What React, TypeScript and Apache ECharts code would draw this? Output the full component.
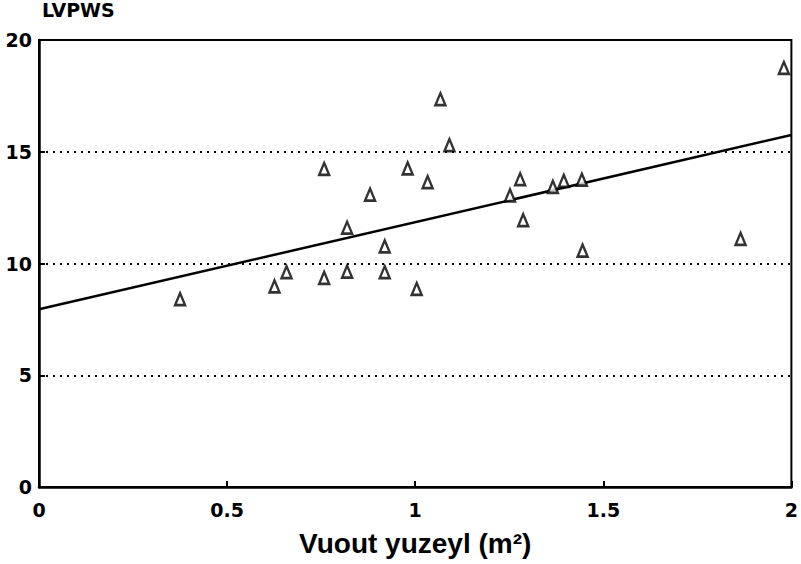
import React, { useEffect, useRef } from "react";
import * as echarts from "echarts";

const xTicks = [0, 0.5, 1, 1.5, 2];
const yTicks = [0, 5, 10, 15, 20];
const surfaceArea = [0.375, 0.626, 0.658, 0.758, 0.758, 0.819, 0.819, 0.88, 0.919, 0.919, 0.98, 1.004, 1.033, 1.067, 1.091, 1.252, 1.279, 1.287, 1.366, 1.395, 1.443, 1.445, 1.865, 1.98];
const lvpws = [8.41, 8.98, 9.61, 14.23, 9.36, 9.64, 11.6, 13.08, 10.77, 9.61, 14.26, 8.86, 13.64, 17.35, 15.3, 13.05, 13.77, 11.94, 13.43, 13.7, 13.75, 10.58, 11.1, 18.75];
const fitX = [0, 2];
const fitY = [7.95, 15.75];

export default function App() {
  const ref = useRef<HTMLDivElement>(null);
  useEffect(() => {
    if (!ref.current) return;
    const chart = echarts.init(ref.current, null, { renderer: "svg" });
    const font = "'DejaVu Sans', 'Liberation Sans', sans-serif";
    chart.setOption({
      animation: false,
      backgroundColor: "#fff",
      grid: {
        left: 39,
        right: 4,
        top: 38,
        bottom: 77,
        show: true,
        borderColor: "#000",
        borderWidth: 2,
      },
      xAxis: {
        type: "value",
        min: 0,
        max: 2,
        interval: 0.5,
        name: "Vuout yuzeyl (m²)",
        nameLocation: "middle",
        nameGap: 42,
        nameTextStyle: {
          fontFamily: "'Liberation Sans', Arial, sans-serif",
          fontWeight: "bold",
          fontSize: 28,
          color: "#000",
        },
        axisLine: { show: true, lineStyle: { color: "#000", width: 2.5 } },
        axisTick: { show: true, inside: true, length: 6, lineStyle: { color: "#000", width: 2 } },
        axisLabel: {
          margin: 13,
          fontFamily: font,
          fontWeight: "bold",
          fontSize: 19,
          color: "#000",
          formatter: (v: number) => (xTicks.includes(v) ? String(v) : ""),
        },
        splitLine: { show: false },
      },
      yAxis: {
        type: "value",
        min: 0,
        max: 20,
        interval: 5,
        name: "LVPWS",
        nameLocation: "end",
        nameGap: 21,
        nameTextStyle: {
          align: "left",
          fontFamily: font,
          fontWeight: "bold",
          fontSize: 19,
          color: "#000",
          padding: [0, 0, 0, 3],
        },
        axisLine: { show: true, lineStyle: { color: "#000", width: 2.5 } },
        axisTick: { show: true, inside: true, length: 6, lineStyle: { color: "#000", width: 2 } },
        axisLabel: {
          margin: 7,
          fontFamily: font,
          fontWeight: "bold",
          fontSize: 19,
          color: "#000",
          formatter: (v: number) => (yTicks.includes(v) ? String(v) : ""),
        },
        splitLine: {
          show: true,
          lineStyle: { color: "#000", width: 2, type: [2, 5] },
        },
      },
      series: [
        {
          type: "line",
          data: fitX.map((x, i) => [x, fitY[i]]),
          symbol: "none",
          lineStyle: { color: "#000", width: 2.5 },
          z: 2,
        },
        {
          type: "scatter",
          data: surfaceArea.map((x, i) => [x, lvpws[i]]),
          symbol: "triangle",
          symbolSize: [10, 12],
          itemStyle: { color: "#fff", borderColor: "#000", borderWidth: 2.5 },
          z: 3,
        },
      ],
    });
    return () => chart.dispose();
  }, []);
  return (
    <div
      ref={ref}
      style={{ position: "fixed", left: 0, top: 0, width: 801, height: 564 }}
    />
  );
}
